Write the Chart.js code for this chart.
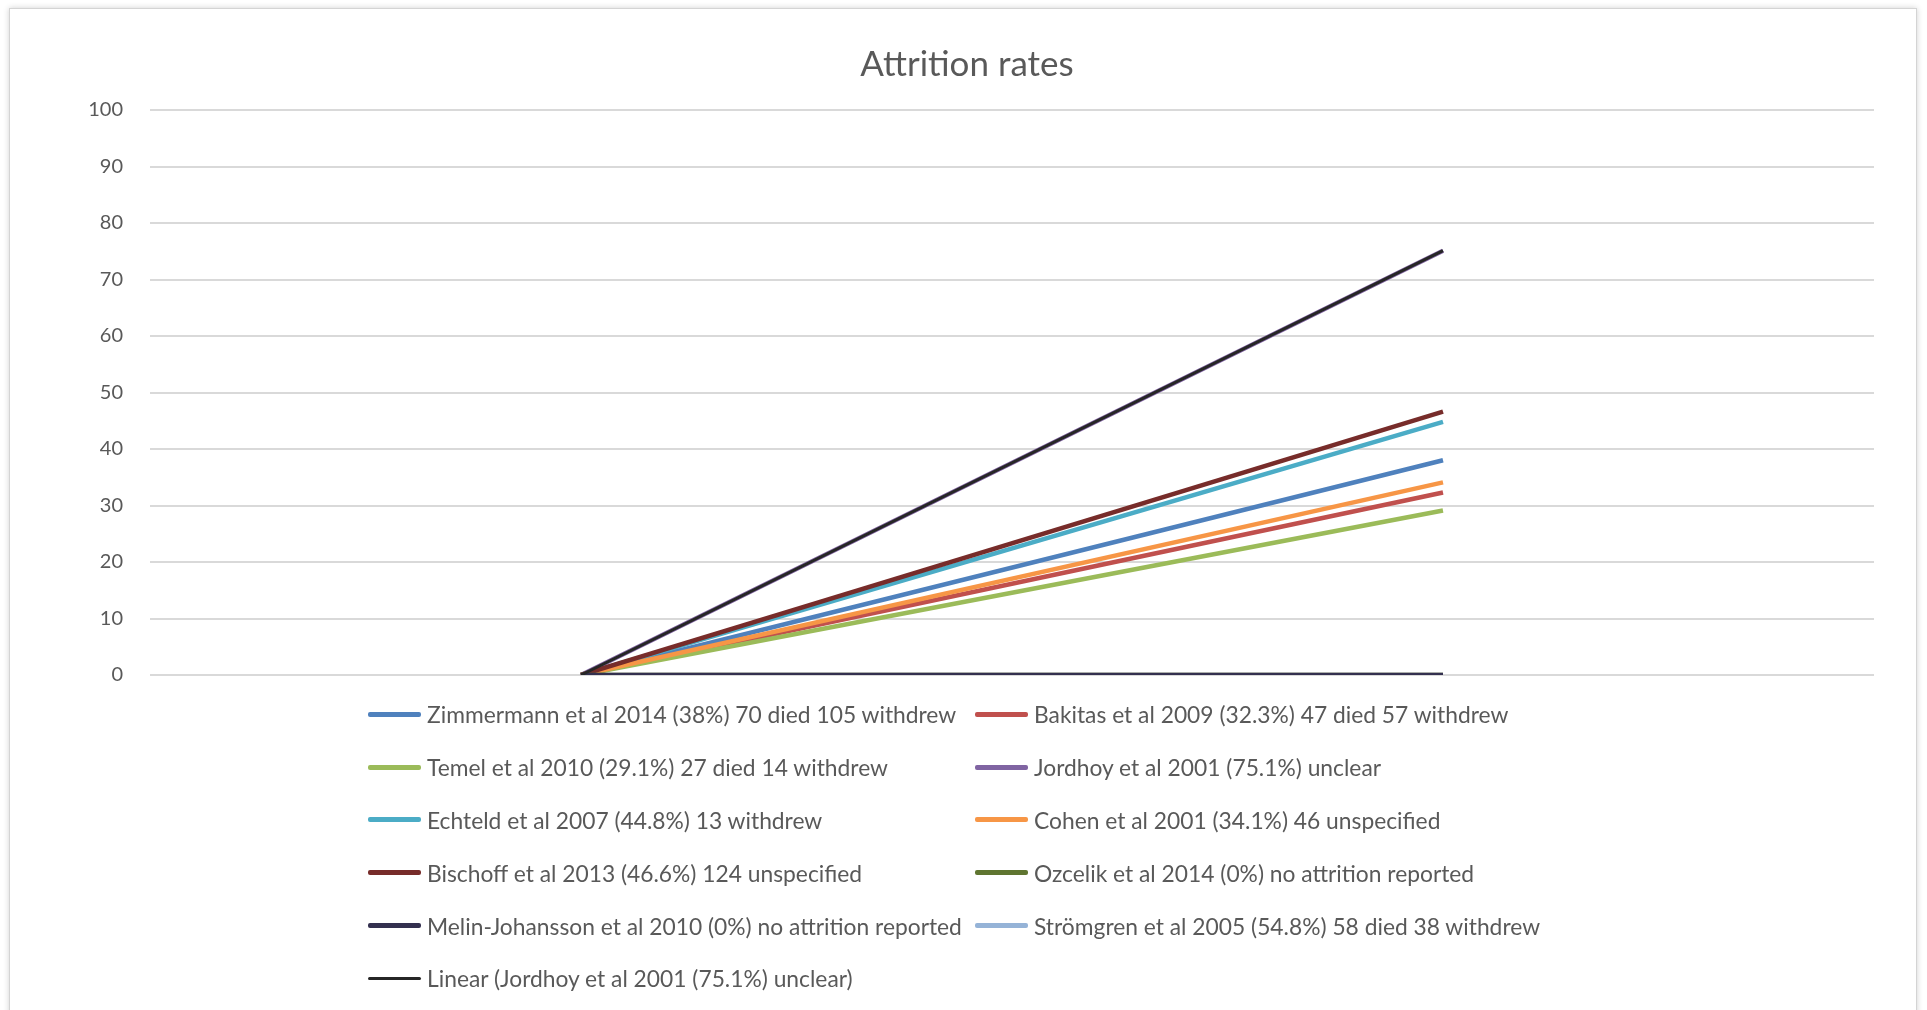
<!DOCTYPE html>
<html>
<head>
<meta charset="utf-8">
<script src="https://cdn.jsdelivr.net/npm/chart.js@4.4.1/dist/chart.umd.min.js"></script>
<style>
    html, body { margin: 0; padding: 0; background: #fff; overflow: hidden; }
    #frame {
        position: absolute; left: 9px; top: 8px; width: 1906px; height: 1100px;
        border: 1px solid #d4d4d4;
        box-shadow: 0 0 6px rgba(0,0,0,0.18);
    }
    #wrap { position: absolute; left: 0; top: 0; width: 1927px; height: 1010px; }
    #legend {
        position: absolute; left: 368px; top: 688px;
        display: grid; grid-template-columns: 607px auto;
        grid-auto-rows: 52.8px;
        font-family: Lato, 'Open Sans', sans-serif; font-size: 22.8px; color: #595959;
    }
    .item { display: flex; align-items: center; white-space: nowrap; }
    .swatch { width: 53px; height: 5px; margin-right: 6px; border-radius: 2px; flex: none; }
</style>
</head>
<body>
<div id="frame"></div>
<div id="wrap"><canvas id="chart" width="1927" height="1010"></canvas></div>
<div id="legend"></div>
<script>
// two category points, no labels shown
const categories = ['', ''];

const seriesNames = [
    'Zimmermann et al 2014 (38%) 70 died 105 withdrew',
    'Bakitas et al 2009 (32.3%) 47 died 57 withdrew',
    'Temel et al 2010 (29.1%) 27 died 14 withdrew',
    'Jordhoy et al 2001 (75.1%) unclear',
    'Echteld et al 2007 (44.8%) 13 withdrew',
    'Cohen et al 2001 (34.1%) 46 unspecified',
    'Bischoff et al 2013 (46.6%) 124 unspecified',
    'Ozcelik et al 2014 (0%) no attrition reported',
    'Melin-Johansson et al 2010 (0%) no attrition reported',
    'Strömgren et al 2005 (54.8%) 58 died 38 withdrew',
    'Linear (Jordhoy et al 2001 (75.1%) unclear)'
];

const seriesValues = [
    [0, 38],
    [0, 32.3],
    [0, 29.1],
    [0, 75.1],
    [0, 44.8],
    [0, 34.1],
    [0, 46.6],
    [0, 0],
    [0, 0],
    [null, null],   // not drawn in the picture
    [0, 75.1]       // trendline through Jordhoy
];

const seriesColors = [
    '#4F81BD', '#C0504D', '#9BBB59', '#8064A2', '#4BACC6', '#F79646',
    '#772C2A', '#5F7530', '#33304F', '#95B3D7', '#262626'
];

const yTicks = [0, 10, 20, 30, 40, 50, 60, 70, 80, 90, 100];

const datasets = seriesNames.map((name, i) => ({
    label: name,
    data: seriesValues[i],
    borderColor: seriesColors[i],
    backgroundColor: seriesColors[i],
    borderWidth: i === 10 ? 3 : 4.5,
    pointRadius: 0,
    tension: 0,
    spanGaps: false,
    order: -i   // later series on top, like Excel
}));

const chart = new Chart(document.getElementById('chart'), {
    type: 'line',
    data: { labels: categories, datasets: datasets },
    options: {
        responsive: false,
        animation: false,
        layout: { padding: { left: 60, right: 53, top: 0, bottom: 327 } },
        plugins: {
            legend: { display: false },
            tooltip: { enabled: false },
            title: {
                display: true,
                text: 'Attrition rates',
                color: '#595959',
                font: { family: 'Lato', size: 35, weight: 'normal' },
                padding: { top: 44, bottom: 24 }
            }
        },
        scales: {
            x: {
                offset: true,
                ticks: { display: false },
                grid: { display: false, offset: true },
                border: { display: false }
            },
            y: {
                min: 0,
                max: 100,
                afterFit: (scale) => { scale.width = 90; },
                afterBuildTicks: (scale) => { scale.ticks = yTicks.map(v => ({ value: v })); },
                ticks: {
                    color: '#595959',
                    padding: 27,
                    font: { family: 'Lato', size: 20 }
                },
                grid: { color: '#d9d9d9', lineWidth: 2, drawTicks: false },
                border: { display: false }
            }
        }
    }
});

// legend in two aligned columns, the way Excel lays it out
const legendEl = document.getElementById('legend');
legendEl.innerHTML = chart.data.datasets.map((ds, i) => `
    <div class="item">
        <span class="swatch" style="background:${ds.borderColor};${i === 10 ? 'height:3px;' : ''}"></span>
        <span>${ds.label}</span>
    </div>
`).join('');
</script>
</body>
</html>
